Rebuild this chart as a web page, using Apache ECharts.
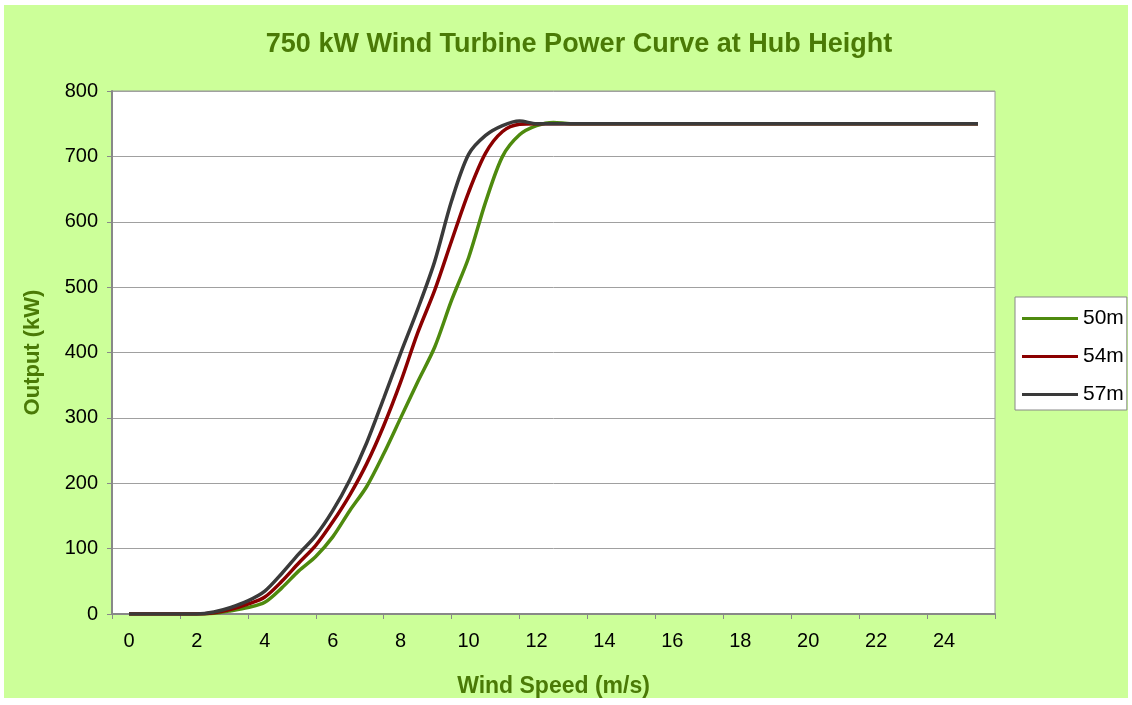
<!DOCTYPE html>
<head>
    <meta charset="utf-8">
    <title>750 kW Wind Turbine Power Curve</title>
    <script src="https://cdn.jsdelivr.net/npm/echarts@6/dist/echarts.min.js"></script>
    <style>
        body { margin: 0; background: #fff; }
    </style>
</head>
<body>
<div id="main" style="width:1132px;height:705px"></div>
<script type="text/javascript">
    // wind speed (m/s)
    var speeds = [0,0.5,1,1.5,2,2.5,3,3.5,4,4.5,5,5.5,6,6.5,7,7.5,8,8.5,9,9.5,10,10.5,11,11.5,12,12.5,13,
        13.5,14,15,16,17,18,19,20,21,22,23,24,25];
    // output (kW) per hub height
    var out50 = [0,0,0,0,0,1,5,10,18,40,66,88,118,158,195,245,300,355,408,480,545,630,700,733,747,752,750,
        750,750,750,750,750,750,750,750,750,750,750,750,750];
    var out54 = [0,0,0,0,0,2,7,15,26,50,78,105,141,182,230,288,355,430,495,571,645,705,738,749,750,750,750,
        750,750,750,750,750,750,750,750,750,750,750,750,750];
    var out57 = [0,0,0,0,0,3,10,20,35,62,92,120,158,205,262,330,399,466,539,632,703,732,747,754,750,750,750,
        750,750,750,750,750,750,750,750,750,750,750,750,750];
    var seriesNames = ['50m', '54m', '57m'];
    var seriesColors = ['#4E8A0E', '#8B0000', '#3A3A3A'];
    var xLabels = [0,2,4,6,8,10,12,14,16,18,20,22,24];
    var xTicks = [-0.5,1.5,3.5,5.5,7.5,9.5,11.5,13.5,15.5,17.5,19.5,21.5,23.5,25.5];

    var myChart = echarts.init(document.getElementById('main'));

    function pairs(ys) {
        return speeds.map(function (s, i) { return [s, ys[i]]; });
    }

    var font = 'Liberation Sans, Arial, sans-serif';
    var green = '#4A7A06';

    var option = {
        backgroundColor: '#fff',
        animation: false,
        textStyle: { fontFamily: font },
        graphic: [{
            type: 'rect', left: 4, top: 5, z: -10, silent: true,
            shape: { width: 1124, height: 693 },
            style: { fill: '#CCFF99' }
        }],
        title: {
            text: '750 kW Wind Turbine Power Curve at Hub Height',
            left: 574,
            textAlign: 'center',
            top: 26,
            textStyle: { fontFamily: font, fontSize: 27, fontWeight: 'bold', color: green }
        },
        legend: {
            orient: 'vertical',
            left: 1015,
            top: 297,
            padding: [11, 3, 5, 7],
            itemGap: 17,
            itemWidth: 56,
            itemHeight: 3,
            icon: 'rect',
            backgroundColor: '#fff',
            borderColor: '#888',
            borderWidth: 1,
            borderRadius: 0,
            textStyle: { fontFamily: font, fontSize: 21, color: '#000' },
            data: seriesNames
        },
        grid: {
            left: 112, right: 137, top: 91, bottom: 91,
            show: true,
            backgroundColor: '#fff',
            borderColor: '#999',
            borderWidth: 1
        },
        xAxis: {
            type: 'value',
            min: -0.5,
            max: 25.5,
            name: 'Wind Speed (m/s)',
            nameLocation: 'middle',
            nameGap: 61,
            nameTextStyle: { fontFamily: font, fontSize: 23, fontWeight: 'bold', color: green },
            axisLine: { onZero: false, lineStyle: { color: '#888', width: 2 } },
            axisTick: { show: true, length: 5, customValues: xTicks, lineStyle: { color: '#888', width: 1 } },
            axisLabel: { customValues: xLabels, margin: 17, fontFamily: font, fontSize: 20, color: '#000' },
            splitLine: { show: false }
        },
        yAxis: {
            type: 'value',
            min: 0,
            max: 800,
            interval: 100,
            name: 'Output (kW)',
            nameLocation: 'middle',
            nameGap: 68,
            nameTextStyle: { fontFamily: font, fontSize: 22, fontWeight: 'bold', color: green },
            axisLine: { show: true, onZero: false, lineStyle: { color: '#888', width: 2 } },
            axisTick: { show: true, length: 5, lineStyle: { color: '#888', width: 1 } },
            axisLabel: { margin: 14, fontFamily: font, fontSize: 20, color: '#000' },
            splitLine: { lineStyle: { color: '#A0A0A0', width: 1 } }
        },
        series: seriesNames.map(function (name, i) {
            return {
                name: name,
                type: 'line',
                smooth: 0.3,
                showSymbol: false,
                color: seriesColors[i],
                lineStyle: { width: 3.5, color: seriesColors[i] },
                data: pairs([out50, out54, out57][i])
            };
        })
    };

    myChart.setOption(option);
</script>
</body>
